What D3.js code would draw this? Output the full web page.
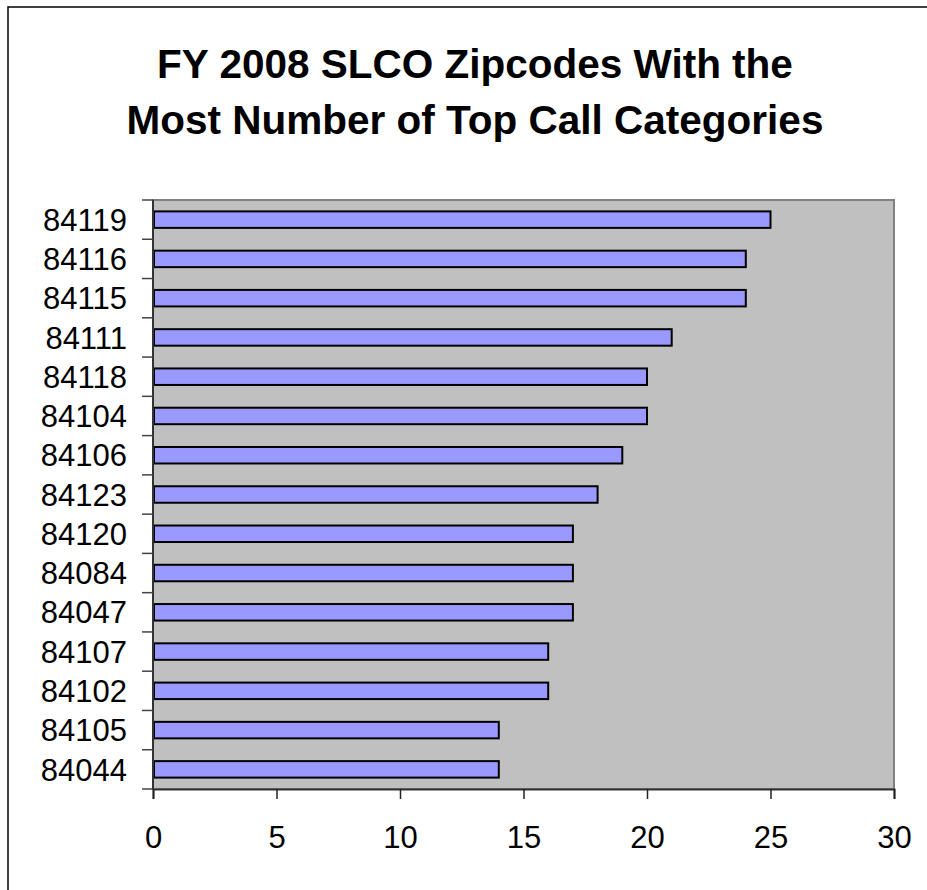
<!DOCTYPE html>
<html>
<head>
<meta charset="utf-8">
<script src="https://cdn.jsdelivr.net/npm/d3@7"></script>
<style>
  body { margin: 0; background: #fff; }
  text { font-family: "Liberation Sans", Arial, sans-serif; }
</style>
</head>
<body>
<div id="chart"></div>
<script>
const zipcodes = ['84119', '84116', '84115', '84111', '84118', '84104', '84106', '84123',
  '84120', '84084', '84047', '84107', '84102', '84105', '84044'];
const counts = [25, 24, 24, 21, 20, 20, 19, 18, 17, 17, 17, 16, 16, 14, 14];
const xTicks = [0, 5, 10, 15, 20, 25, 30];
const titleLines = ['FY 2008 SLCO Zipcodes With the', 'Most Number of Top Call Categories'];

const data = zipcodes.map((z, i) => ({zip: z, value: counts[i]}));

const W = 927, H = 890;
const margin = {top: 200, right: 33, bottom: 101, left: 153},
  width = W - margin.left - margin.right,
  height = H - margin.top - margin.bottom;

const svg = d3.select('#chart')
  .append('svg')
  .attr('width', W)
  .attr('height', H);

// outer chart frame
svg.append('rect')
  .attr('x', 8)
  .attr('y', 7)
  .attr('width', W + 10)
  .attr('height', H + 10)
  .attr('fill', 'none')
  .attr('stroke', '#000')
  .attr('stroke-width', 1.5);

svg.selectAll('.title')
  .data(titleLines)
  .enter().append('text')
  .attr('class', 'title')
  .attr('x', 475)
  .attr('y', (d, i) => 78 + i * 56)
  .attr('text-anchor', 'middle')
  .style('font-weight', 'bold')
  .style('font-size', '40.5px')
  .text(d => d);

const chart = svg.append('g')
  .attr('transform', 'translate(' + margin.left + ',' + margin.top + ')');

const x = d3.scaleLinear()
  .domain([0, 30])
  .range([0, width]);

const y = d3.scaleBand()
  .domain(zipcodes)
  .range([0, height])
  .paddingInner(0.58)
  .paddingOuter(0.29);

// plot area
chart.append('rect')
  .attr('width', width)
  .attr('height', height)
  .attr('fill', '#c0c0c0')
  .attr('stroke', '#808080')
  .attr('stroke-width', 2);

chart.selectAll('.bar')
  .data(data)
  .enter().append('rect')
  .attr('class', 'bar')
  .attr('x', x(0) + 1)
  .attr('y', d => y(d.zip))
  .attr('width', d => x(d.value) - x(0) - 1)
  .attr('height', y.bandwidth())
  .attr('fill', '#9999ff')
  .attr('stroke', '#000')
  .attr('stroke-width', 2);

// y axis: ticks between categories
const step = y.step();
const yAxisG = chart.append('g').attr('class', 'y axis');
yAxisG.append('line')
  .attr('x1', 0).attr('x2', 0)
  .attr('y1', 0).attr('y2', height)
  .attr('stroke', '#333').attr('stroke-width', 2);
yAxisG.selectAll('.ytick')
  .data(d3.range(zipcodes.length + 1))
  .enter().append('line')
  .attr('x1', -11).attr('x2', 0)
  .attr('y1', i => i * step).attr('y2', i => i * step)
  .attr('stroke', '#444').attr('stroke-width', 1.5);
yAxisG.selectAll('.ylabel')
  .data(zipcodes)
  .enter().append('text')
  .attr('x', -26)
  .attr('y', d => y(d) + y.bandwidth() / 2)
  .attr('dy', '0.36em')
  .attr('text-anchor', 'end')
  .style('font-size', '31px')
  .text(d => d);

// x axis
const xAxis = d3.axisBottom(x)
  .tickValues(xTicks)
  .tickSize(10)
  .tickPadding(27);

const xAxisG = chart.append('g')
  .attr('class', 'x axis')
  .attr('transform', 'translate(0,' + height + ')')
  .call(xAxis);
xAxisG.select('.domain').attr('stroke', '#333').attr('stroke-width', 2);
xAxisG.selectAll('.tick line').attr('stroke', '#222').attr('stroke-width', 1.5);
xAxisG.selectAll('.tick text')
  .attr('fill', '#000')
  .style('font-size', '31px')
  .style('font-family', '"Liberation Sans", Arial, sans-serif');
</script>
</body>
</html>
